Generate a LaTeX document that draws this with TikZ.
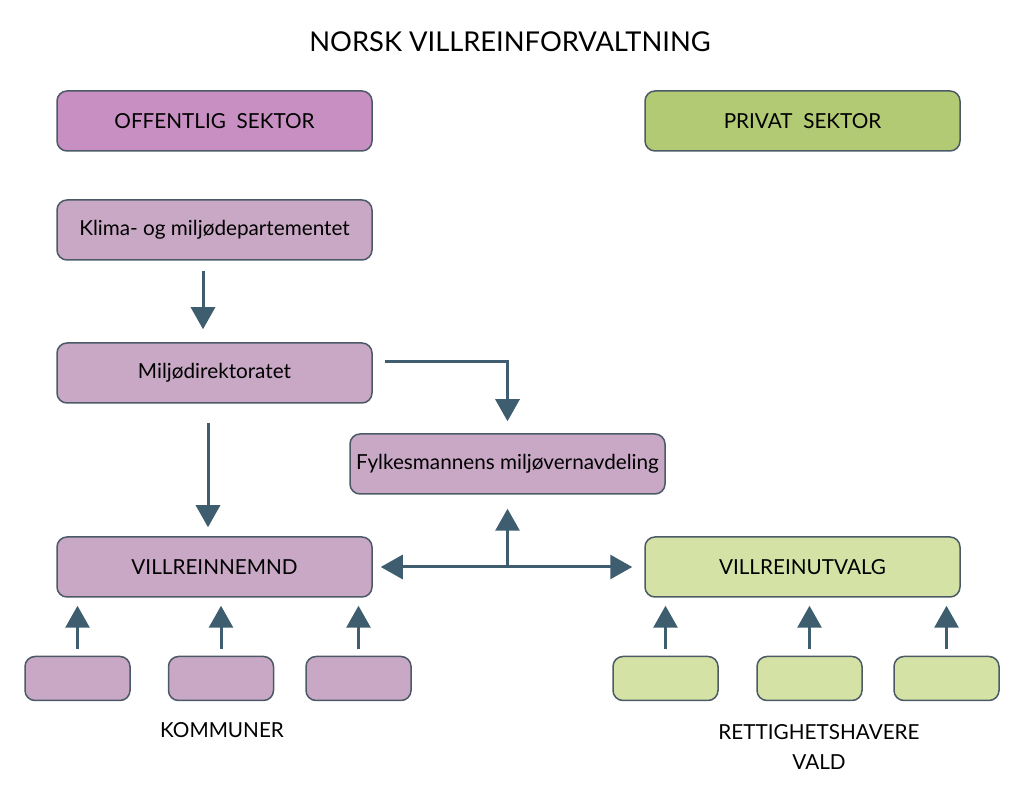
\documentclass[tikz,border=0pt]{standalone}
\usepackage{fontspec}
\setmainfont{Lato}
\usepackage{tikz}
\usetikzlibrary{arrows.meta}
\usepackage{xcolor}
\definecolor{offcol}{HTML}{C78FC2}
\definecolor{privcol}{HTML}{B1CA73}
\definecolor{lilla}{HTML}{C9A8C6}
\definecolor{lysgronn}{HTML}{D4E2A6}
\definecolor{kant}{HTML}{4B5A66}
\definecolor{pilcol}{HTML}{3E5D6E}

\tikzset{
  boks/.style={draw=kant, line width=1.5pt, rounded corners=10pt,
    minimum width=315pt, minimum height=60pt, font=\fontsize{20.7}{24}\selectfont},
  liten/.style={draw=kant, line width=1.5pt, rounded corners=10pt,
    minimum width=105pt, minimum height=44pt},
  pil/.style={draw=pilcol, line width=3pt, -{Triangle[width=24pt,length=22pt]}},
  dobbelpil/.style={draw=pilcol, line width=3pt,
    {Triangle[width=24pt,length=22pt]}-{Triangle[width=24pt,length=22pt]}},
  etikett/.style={font=\fontsize{20.7}{30}\selectfont, align=center}
}

\begin{document}
\begin{tikzpicture}[x=1pt,y=1pt]
\useasboundingbox (0,0) rectangle (1025,800);
\node[font=\fontsize{27.3}{30}\selectfont] (tittel) at (510,758) {NORSK VILLREINFORVALTNING};
% sektorer
\node[boks, fill=offcol] (off) at (214.5,679) {OFFENTLIG\ \ SEKTOR};
\node[boks, fill=privcol] (priv) at (802.5,679) {PRIVAT\ \ SEKTOR};
% offentlige ledd
\node[boks, fill=lilla] (klima) at (214.5,570) {Klima- og miljødepartementet};
\node[boks, fill=lilla] (miljo) at (214.5,427) {Miljødirektoratet};
\node[boks, fill=lilla] (fylke) at (507.5,336) {Fylkesmannens miljøvernavdeling};
\node[boks, fill=lilla] (nemnd) at (214.5,233) {VILLREINNEMND};
\node[boks, fill=lysgronn] (utvalg) at (802.5,233) {VILLREINUTVALG};
% piler mellom ledd
\draw[pil, shorten <=10pt, shorten >=13pt] ([xshift=-11.5pt]klima.south) -- ([xshift=-11.5pt]miljo.north);
\draw[pil, shorten >=12pt] ([shift={(12pt,11pt)}]miljo.east) -| (fylke.north);
\draw[pil, shorten <=19pt, shorten >=9pt] ([xshift=-6.5pt]miljo.south) -- ([xshift=-6.5pt]nemnd.north);
\draw[dobbelpil, shorten <=8pt, shorten >=12pt] (nemnd.east) -- (utvalg.west);
\coordinate (midt) at (507.5,232);
\draw[pil, shorten >=14pt] (midt) -- (fylke.south);
% kommuner og rettighetshavere
\foreach \x [count=\i] in {77.5,221,358.5} {
  \node[liten, fill=lilla] (k\i) at (\x,121.5) {};
  \draw[pil, shorten <=7pt, shorten >=8pt] (k\i.north) -- (k\i.north |- nemnd.south);
}
\foreach \x [count=\i] in {665.5,809.5,946.5} {
  \node[liten, fill=lysgronn] (r\i) at (\x,121.5) {};
  \draw[pil, shorten <=7pt, shorten >=8pt] (r\i.north) -- (r\i.north |- utvalg.south);
}
\node[etikett] (kommuner) at (222,70) {KOMMUNER};
\node[etikett] (rettig) at (819,53) {RETTIGHETSHAVERE\\VALD};
\end{tikzpicture}
\end{document}
